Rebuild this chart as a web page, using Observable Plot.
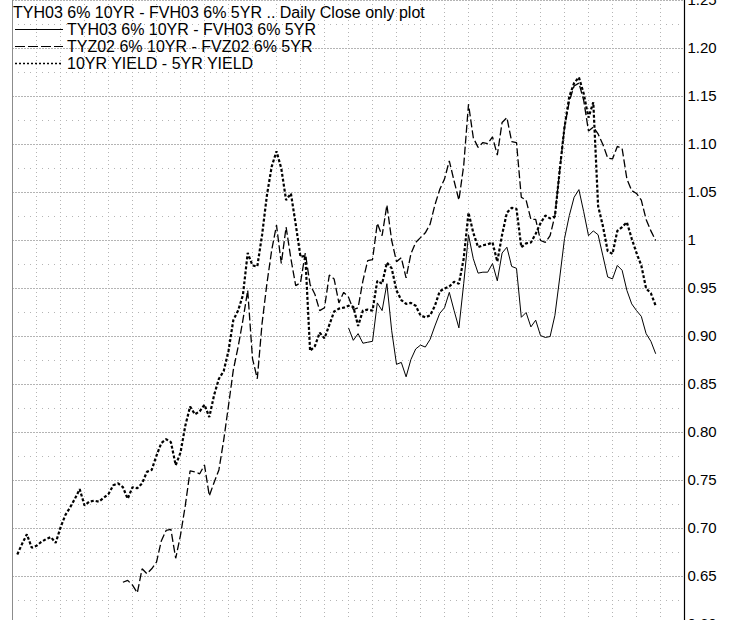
<!DOCTYPE html>
<html><head><meta charset="utf-8">
<script src="https://cdn.jsdelivr.net/npm/d3@7"></script>
<script src="https://cdn.jsdelivr.net/npm/@observablehq/plot@0.6"></script>
<style>
html,body{margin:0;padding:0;background:#fff;overflow:hidden;}
#wrap{position:relative;width:737px;height:620px;overflow:hidden;font-family:"Liberation Sans",Arial,sans-serif;}
#wrap svg.plot{display:block;}
#legend{position:absolute;left:13px;top:4px;font-size:16px;line-height:17px;color:#000;font-family:"Liberation Sans",Arial,sans-serif;}
.row{display:flex;align-items:flex-start;height:17px;white-space:nowrap;}
.row svg{width:54px;height:17px;flex:none;}
</style></head>
<body><div id="wrap"><div id="legend"></div></div>
<script>
// ---- data (trading-day index, spread values) ----
const titleText = "TYH03 6% 10YR - FVH03 6% 5YR .. Daily Close only plot";
const seriesNames = ["TYH03 6% 10YR - FVH03 6% 5YR", "TYZ02 6% 10YR - FVZ02 6% 5YR", "10YR YIELD - 5YR YIELD"];

const yieldStart = 0;
const yieldSpread = [
0.673,0.684,0.694,0.680,0.682,0.686,0.689,0.691,0.685,0.701,
0.714,0.722,0.731,0.741,0.724,0.728,0.729,0.728,0.732,0.736,
0.745,0.747,0.743,0.731,0.743,0.742,0.747,0.759,0.761,0.776,
0.789,0.793,0.790,0.766,0.779,0.807,0.827,0.819,0.822,0.829,
0.816,0.839,0.856,0.864,0.885,0.917,0.927,0.943,0.987,0.974,
0.973,1.006,1.047,1.077,1.093,1.075,1.042,1.049,1.017,0.983,
0.984,0.885,0.890,0.904,0.898,0.912,0.926,0.929,0.930,0.932,
0.931,0.911,0.927,0.928,0.927,0.958,0.955,0.977,0.971,0.948,
0.938,0.934,0.935,0.932,0.922,0.920,0.922,0.932,0.947,0.950,
0.952,0.957,0.955,0.981,1.029,1.008,0.993,0.995,0.996,0.998,
0.978,1.006,1.029,1.034,1.033,0.993,0.997,0.998,1.007,1.018,
1.026,1.023,1.025,1.073,1.118,1.150,1.164,1.170,1.153,1.128,
1.144,1.036,1.015,0.989,0.986,1.010,1.014,1.019,1.002,0.987,
0.974,0.950,0.945,0.932];

const z02Start = 22;
const z02Spread = [
0.644,0.646,0.641,0.633,0.658,0.653,0.658,0.665,
0.687,0.698,0.699,0.669,0.693,0.724,0.760,0.759,0.757,0.766,
0.734,0.748,0.761,0.792,0.828,0.865,0.889,0.917,0.948,0.877,
0.856,0.914,0.955,0.990,1.016,0.976,1.014,0.981,0.953,0.956,
0.987,0.954,0.944,0.927,0.930,0.964,0.960,0.935,0.946,0.941,
0.928,0.930,0.958,0.979,0.980,1.018,1.005,1.037,1.000,0.978,
0.982,0.961,0.986,0.998,1.003,1.008,1.017,1.037,1.053,1.064,
1.083,1.062,1.042,1.078,1.142,1.107,1.097,1.102,1.101,1.108,
1.089,1.123,1.128,1.103,1.102,1.045,1.042,1.022,1.022,1.000,
0.998,1.005,1.026,1.073,1.118,1.145,1.161,1.164,1.146,1.114,
1.118,1.111,1.100,1.086,1.085,1.098,1.096,1.064,1.052,1.049,
1.042,1.022,1.010,1.000];

const h03Start = 69;
const h03Spread = [
0.909,
0.896,0.903,0.893,0.894,0.895,0.935,0.927,0.955,0.906,0.871,
0.873,0.858,0.876,0.887,0.891,0.889,0.897,0.911,0.924,0.930,
0.946,0.927,0.909,0.955,1.006,0.981,0.966,0.967,0.967,0.976,
0.958,0.987,0.993,0.973,0.971,0.920,0.925,0.910,0.917,0.901,
0.899,0.900,0.922,0.961,1.002,1.026,1.045,1.053,1.030,1.005,
1.010,1.006,0.984,0.962,0.960,0.974,0.969,0.948,0.934,0.927,
0.921,0.903,0.895,0.882];

const xDomain = [-1, 139];
const yDomain = [0.60, 1.25];
const yTicks = [0.60,0.65,0.70,0.75,0.80,0.85,0.90,0.95,1.00,1.05,1.10,1.15,1.20,1.25];
const yMinorTicks = [0.625,0.675,0.725,0.775,0.825,0.875,0.925,0.975,1.025,1.075,1.125,1.175,1.225];
const weekTicks = d3.range(4, 139, 5);

const styles = [
  {stroke: "black", strokeWidth: 1, dash: null, legendDash: null, legendWidth: 1},
  {stroke: "black", strokeWidth: 1.3, dash: "8,3", legendDash: "10,3", legendWidth: 1.2},
  {stroke: "black", strokeWidth: 2.2, dash: "3,2", legendDash: "2,2", legendWidth: 1.5}
];

const toRows = (start, vals) => vals.map((v, i) => ({d: start + i, v}));

const plot = Plot.plot({
  width: 737,
  height: 640,
  marginTop: 0,
  marginBottom: 16,
  marginLeft: 12,
  marginRight: 53,
  style: {fontFamily: "Liberation Sans, Arial, sans-serif", fontSize: "15px", background: "white", color: "black"},
  x: {domain: xDomain, axis: null},
  y: {domain: yDomain},
  marks: [
    Plot.ruleX(weekTicks, {stroke: "#b4b4b4", strokeDasharray: "1,3"}),
    Plot.ruleY(yMinorTicks, {stroke: "#b4b4b4", strokeDasharray: "1,5"}),
    Plot.ruleY(yTicks, {stroke: "#b4b4b4", strokeDasharray: "2,1"}),
    Plot.ruleX([xDomain[0]], {stroke: "#8c8c8c"}),
    Plot.line(toRows(h03Start, h03Spread), {x: "d", y: "v", stroke: styles[0].stroke, strokeWidth: styles[0].strokeWidth, strokeLinecap: "butt", strokeLinejoin: "miter"}),
    Plot.line(toRows(z02Start, z02Spread), {x: "d", y: "v", stroke: styles[1].stroke, strokeWidth: styles[1].strokeWidth, strokeDasharray: styles[1].dash, strokeLinecap: "butt", strokeLinejoin: "miter"}),
    Plot.line(toRows(yieldStart, yieldSpread), {x: "d", y: "v", stroke: styles[2].stroke, strokeWidth: styles[2].strokeWidth, strokeDasharray: styles[2].dash, strokeLinecap: "butt", strokeLinejoin: "miter"}),
    Plot.ruleX([xDomain[1]], {stroke: "black", strokeWidth: 1.2}),
    Plot.axisY(yTicks, {anchor: "right", tickSize: 0, tickPadding: 3, label: null, fontSize: 15,
      tickFormat: d => d === 1 ? "1" : d.toFixed(2)})
  ]
});
plot.classList.add("plot");
document.getElementById("wrap").prepend(plot);

// legend / title overlay
const legend = document.getElementById("legend");
const t = document.createElement("div");
t.className = "row";
t.textContent = titleText;
legend.appendChild(t);
seriesNames.forEach((name, i) => {
  const row = document.createElement("div");
  row.className = "row";
  const s = styles[i];
  row.innerHTML = `<svg viewBox="0 0 54 17"><line x1="2" x2="50" y1="8.5" y2="8.5" stroke="${s.stroke}" stroke-width="${s.legendWidth}" ${s.legendDash ? `stroke-dasharray="${s.legendDash}"` : ""}/></svg><span>${name}</span>`;
  legend.appendChild(row);
});
</script>
</body></html>
